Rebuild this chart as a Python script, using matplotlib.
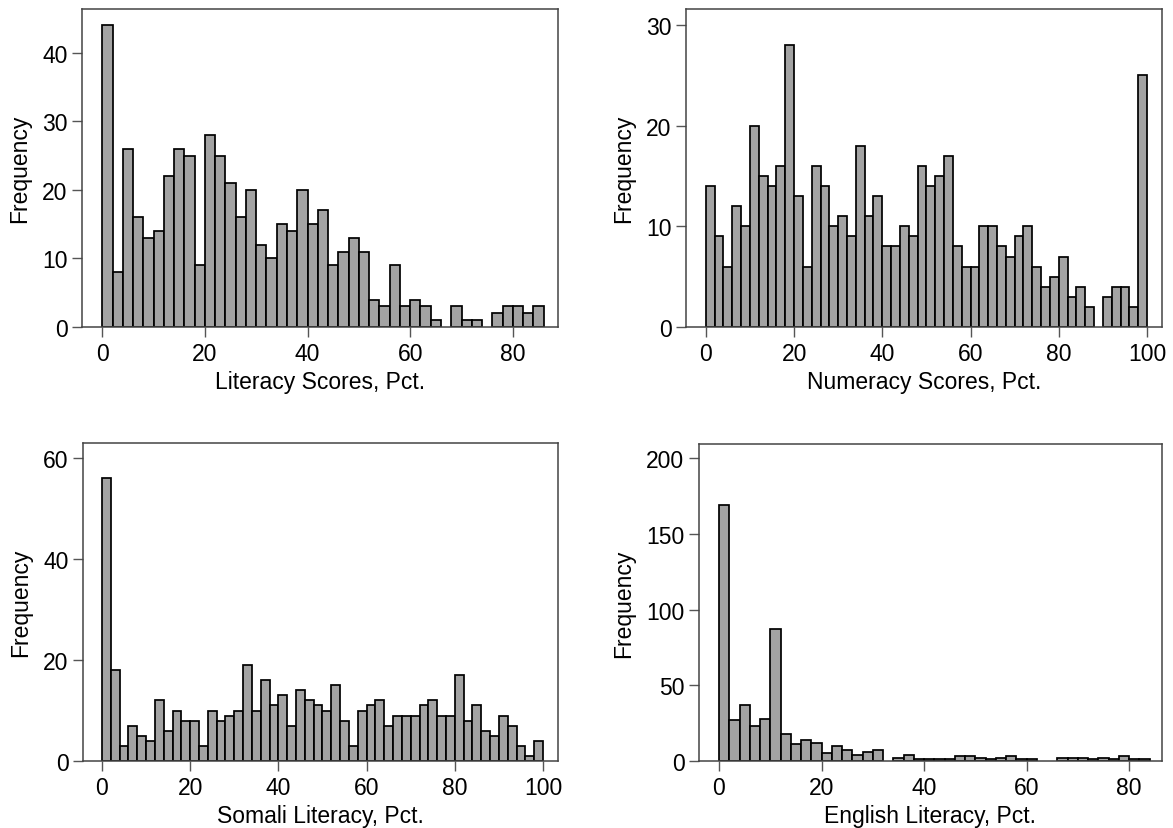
import numpy as np
import matplotlib
matplotlib.use("Agg")
import matplotlib.pyplot as plt

plt.rcParams['font.family'] = ['Liberation Sans', 'DejaVu Sans']

# bin counts, 2-point bins starting at 0
literacy = [44, 8, 26, 16, 13, 14, 22, 26, 25, 9, 28, 25, 21, 16, 20, 12, 10, 15, 14, 20, 15, 17,
            9, 11, 13, 11, 4, 3, 9, 3, 4, 3, 1, 0, 3, 1, 1, 0, 2, 3, 3, 2, 3]
numeracy = [14, 9, 6, 12, 10, 20, 15, 14, 16, 28, 13, 6, 16, 14, 10, 11, 9, 18, 11, 13, 8, 8,
            10, 9, 16, 14, 15, 17, 8, 6, 6, 10, 10, 8, 7, 9, 10, 6, 4, 5, 7, 3, 4, 2, 0, 3, 4, 4, 2, 25]
somali = [56, 18, 3, 7, 5, 4, 12, 6, 10, 8, 8, 3, 10, 8, 9, 10, 19, 10, 16, 11, 13, 7,
          14, 12, 11, 10, 15, 8, 3, 10, 11, 12, 7, 9, 9, 9, 11, 12, 9, 9, 17, 8, 11, 6, 5, 9, 7, 3, 1, 4]
english = [169, 27, 37, 23, 28, 87, 18, 11, 14, 12, 5, 10, 7, 4, 6, 7, 0, 2, 4, 1,
           1, 1, 1, 3, 3, 2, 1, 2, 3, 1, 1, 0, 0, 2, 2, 2, 1, 2, 1, 3, 1, 1]

xlabels = ["Literacy Scores, Pct.", "Numeracy Scores, Pct.", "Somali Literacy, Pct.", "English Literacy, Pct."]
xticks = [[0, 20, 40, 60, 80], [0, 20, 40, 60, 80, 100], [0, 20, 40, 60, 80, 100], [0, 20, 40, 60, 80]]
yticks = [[0, 10, 20, 30, 40], [0, 10, 20, 30], [0, 20, 40, 60], [0, 50, 100, 150, 200]]
xlims = [(-3.95, 88.8), (-4.5, 103.4), (-4.3, 103.4), (-3.9, 86.4)]
ylims = [46.4, 31.6, 63.0, 209.5]

W, H = 1173, 829
# axes boxes in pixels: left, right, top, bottom
boxes = [(82, 558, 10, 328), (686, 1162, 10, 328), (83, 558, 444, 762), (699, 1162, 445, 762)]

fig = plt.figure(figsize=(W / 100, H / 100), dpi=100)

for i, counts in enumerate([literacy, numeracy, somali, english]):
    l, r, t, b = boxes[i]
    ax = fig.add_axes([l / W, 1 - b / H, (r - l) / W, (b - t) / H])
    counts = np.array(counts)
    edges = np.arange(len(counts)) * 2
    keep = counts > 0
    ax.bar(edges[keep], counts[keep], width=2, align='edge',
           color='#a3a3a3', edgecolor='black', linewidth=1.25)
    ax.set_xlim(*xlims[i])
    ax.set_ylim(0, ylims[i])
    ax.set_xticks(xticks[i])
    ax.set_yticks(yticks[i])
    ax.tick_params(labelsize=16.5, length=7, width=1, color='#555555', pad=3.5)
    for s in ax.spines.values():
        s.set_color('#444444')
        s.set_linewidth(1.1)
    ax.set_xlabel(xlabels[i], fontsize=16.5, labelpad=4)
    ax.set_ylabel("Frequency", fontsize=16.5, labelpad=8)

fig.savefig("out.png", dpi=100)
